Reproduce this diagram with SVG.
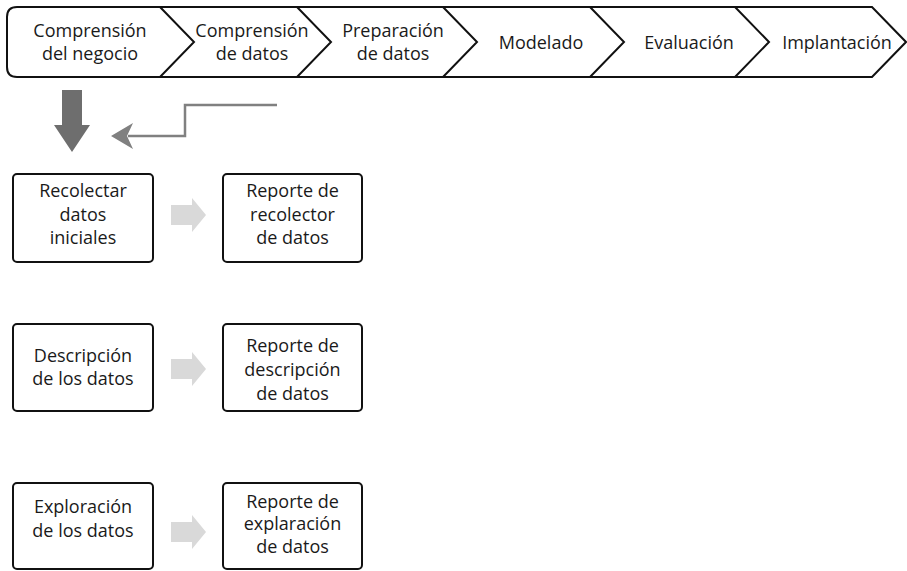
<svg xmlns="http://www.w3.org/2000/svg" width="907" height="571" viewBox="0 0 907 571">
<style>
text{font-family:"Open Sans","Noto Sans","Liberation Sans",sans-serif;font-size:18px;fill:#1a1a1a;text-anchor:middle}
.box{fill:#fff;stroke:#111;stroke-width:2}
.bar{fill:#fff;stroke:#111;stroke-width:2;stroke-linejoin:miter}
.sep{fill:none;stroke:#111;stroke-width:2}
.light{fill:#d9d9d9}
</style>
<g id="phase-bar">
<path class="bar" d="M17,7 H872 L906,42 L872,77 H17 Q7,77 7,67 V17 Q7,7 17,7 Z"/>
<path class="sep" d="M160,7 L194,42 L160,77 M297,7 L331,42 L297,77 M443,7 L477,42 L443,77 M590,7 L624,42 L590,77 M735,7 L769,42 L735,77"/>
</g>
<g id="phase-1"><text x="90" y="37">Comprensión</text><text x="90" y="60">del negocio</text></g>
<g id="phase-2"><text x="252" y="37">Comprensión</text><text x="252" y="60">de datos</text></g>
<g id="phase-3"><text x="393" y="37">Preparación</text><text x="393" y="60">de datos</text></g>
<g id="phase-4"><text x="541" y="49">Modelado</text></g>
<g id="phase-5"><text x="689" y="49">Evaluación</text></g>
<g id="phase-6"><text x="837" y="49">Implantación</text></g>

<g id="connectors">
<path d="M62,90 H82 V125 H90 L72,152 L54,125 H62 Z" fill="#6e6e6e"/>
<path d="M277,105 H185 V136 H128" fill="none" stroke="#808080" stroke-width="2.5"/>
<path d="M111,136 L133,123 L127,136 L133,149 Z" fill="#808080"/>
<path class="light" d="M171,205 H192 V198 L206,215 L192,232 V225 H171 Z"/>
<path class="light" d="M171,359 H192 V352 L206,369 L192,386 V379 H171 Z"/>
<path class="light" d="M171,522 H192 V515 L206,532 L192,549 V542 H171 Z"/>
</g>

<g id="recolectar"><rect class="box" x="13" y="174" width="140" height="88" rx="4"/><text x="83" y="197">Recolectar</text><text x="83" y="221">datos</text><text x="83" y="244">iniciales</text></g>
<g id="reporte-recolector"><rect class="box" x="223" y="174" width="139" height="88" rx="4"/><text x="292.5" y="197">Reporte de</text><text x="292.5" y="221">recolector</text><text x="292.5" y="244">de datos</text></g>

<g id="descripcion"><rect class="box" x="13" y="324" width="140" height="87" rx="4"/><text x="83" y="362">Descripción</text><text x="83" y="385">de los datos</text></g>
<g id="reporte-descripcion"><rect class="box" x="223" y="324" width="139" height="87" rx="4"/><text x="292.5" y="352">Reporte de</text><text x="292.5" y="376">descripción</text><text x="292.5" y="400">de datos</text></g>

<g id="exploracion"><rect class="box" x="13" y="483" width="140" height="86" rx="4"/><text x="83" y="513">Exploración</text><text x="83" y="537">de los datos</text></g>
<g id="reporte-exploracion"><rect class="box" x="223" y="483" width="139" height="86" rx="4"/><text x="292.5" y="508">Reporte de</text><text x="292.5" y="530">explaración</text><text x="292.5" y="553">de datos</text></g>
</svg>
